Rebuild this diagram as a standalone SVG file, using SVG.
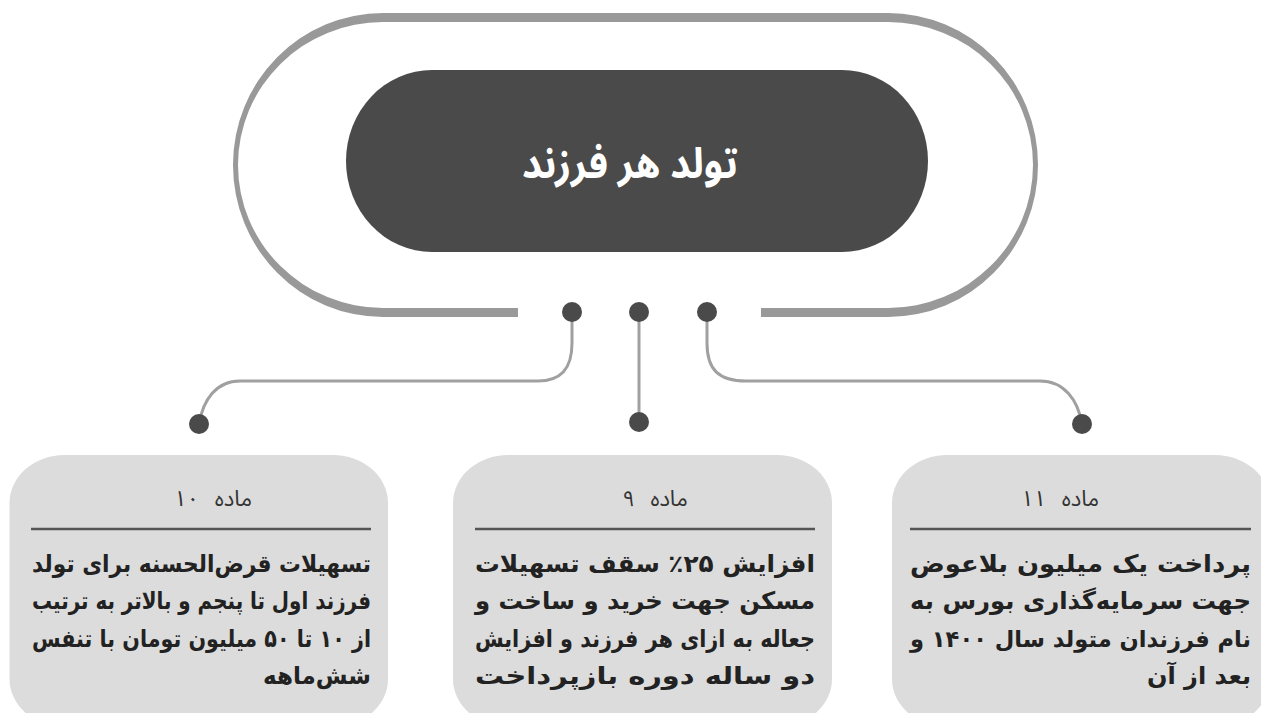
<svg xmlns="http://www.w3.org/2000/svg" width="1261" height="713" viewBox="0 0 1261 713">
  <style>
    .ring { fill: #999999; }
    .core { fill: #4a4a4a; }
    .dot { fill: #4a4a4a; }
    .wire { fill: none; stroke: #a0a0a0; stroke-width: 3; }
    .card { fill: #dcdcdc; }
    .rule { stroke: #555555; stroke-width: 2.5; }
    .title { font-family: "Noto Sans Arabic", "DejaVu Sans", sans-serif; font-weight: bold; font-size: 42px; fill: #ffffff; }
    .head { font-family: "Noto Sans Arabic", "DejaVu Sans", sans-serif; font-size: 22px; fill: #333333; word-spacing: 10px; }
    .body { font-family: "DejaVu Sans", sans-serif; font-weight: bold; font-size: 24px; fill: #222222; }
    .small { font-size: 23px; }
  </style>
  <rect width="1261" height="713" fill="#ffffff"/>

  <g id="center">
    <path class="ring" d="M518,317 H383 A150,152 0 0 1 233,165 A150,152 0 0 1 383,13 H888 A150,152 0 0 1 1038,165 A150,152 0 0 1 888,317 H761 V308 H888 A145,143 0 0 0 1033,165 A145,143 0 0 0 888,22 H383 A145,143 0 0 0 238,165 A145,143 0 0 0 383,308 H518 Z"/>
    <rect class="core" x="346" y="70" width="582" height="182" rx="86" ry="91"/>
    <text class="title" x="630" y="178" text-anchor="middle" direction="rtl" textLength="216" lengthAdjust="spacingAndGlyphs">تولد هر فرزند</text>
  </g>

  <g id="connectors">
    <path class="wire" d="M572,313 V343 C572,370 560,381 538,381 H240 C216,381 203,400 199,424"/>
    <path class="wire" d="M639,313 V422"/>
    <path class="wire" d="M707,313 V343 C707,370 719,381 746,381 H1040 C1064,381 1078,400 1082,424"/>
    <circle class="dot" cx="572" cy="312" r="10"/>
    <circle class="dot" cx="639" cy="312" r="10"/>
    <circle class="dot" cx="707" cy="312" r="10"/>
    <circle class="dot" cx="199" cy="424" r="10"/>
    <circle class="dot" cx="639" cy="422" r="10"/>
    <circle class="dot" cx="1082" cy="424" r="10"/>
  </g>

  <g id="article-10">
    <rect class="card" x="9.5" y="455" width="378.5" height="272" rx="55" ry="48"/>
    <text class="head" x="213" y="506" text-anchor="middle" direction="rtl">ماده ۱۰</text>
    <line class="rule" x1="31" y1="529" x2="371" y2="529"/>
    <text class="body" x="201.5" y="572" text-anchor="middle" direction="rtl" textLength="339" lengthAdjust="spacingAndGlyphs">تسهیلات قرض‌الحسنه برای تولد</text>
    <text class="body" x="201.5" y="609" text-anchor="middle" direction="rtl" textLength="339" lengthAdjust="spacingAndGlyphs">فرزند اول تا پنجم و بالاتر به ترتیب</text>
    <text class="body" x="201.5" y="647" text-anchor="middle" direction="rtl" textLength="339" lengthAdjust="spacingAndGlyphs">از ۱۰ تا ۵۰ میلیون تومان با تنفس</text>
    <text class="body" x="371" y="684" text-anchor="end" textLength="108" lengthAdjust="spacingAndGlyphs">شش‌ماهه</text>
  </g>

  <g id="article-9">
    <rect class="card" x="453" y="455" width="379" height="272" rx="55" ry="48"/>
    <text class="head" x="655" y="506" text-anchor="middle" direction="rtl">ماده ۹</text>
    <line class="rule" x1="475" y1="529" x2="815" y2="529"/>
    <text class="body" x="645" y="572" text-anchor="middle" direction="rtl" textLength="340" lengthAdjust="spacingAndGlyphs">افزایش ۲۵٪ سقف تسهیلات</text>
    <text class="body" x="645" y="609" text-anchor="middle" direction="rtl" textLength="340" lengthAdjust="spacingAndGlyphs">مسکن جهت خرید و ساخت و</text>
    <text class="body" x="645" y="647" text-anchor="middle" direction="rtl" textLength="340" lengthAdjust="spacingAndGlyphs">جعاله به ازای هر فرزند و افزایش</text>
    <text class="body" x="645" y="684" text-anchor="middle" direction="rtl" textLength="340" lengthAdjust="spacingAndGlyphs">دو ساله دوره بازپرداخت</text>
  </g>

  <g id="article-11">
    <rect class="card" x="892" y="455" width="378" height="272" rx="55" ry="48"/>
    <text class="head" x="1060" y="506" text-anchor="middle" direction="rtl">ماده ۱۱</text>
    <line class="rule" x1="910" y1="529" x2="1251" y2="529"/>
    <text class="body" x="1251" y="572" text-anchor="end" textLength="341" lengthAdjust="spacingAndGlyphs">پرداخت یک میلیون بلاعوض</text>
    <text class="body" x="1251" y="609" text-anchor="end" textLength="341" lengthAdjust="spacingAndGlyphs">جهت سرمایه‌گذاری بورس به</text>
    <text class="body small" x="1080.5" y="647" text-anchor="middle" direction="rtl" textLength="341" lengthAdjust="spacingAndGlyphs">نام فرزندان متولد سال ۱۴۰۰ و</text>
    <text class="body" x="1251" y="684" text-anchor="end" textLength="104" lengthAdjust="spacingAndGlyphs">بعد از آن</text>
  </g>
</svg>
